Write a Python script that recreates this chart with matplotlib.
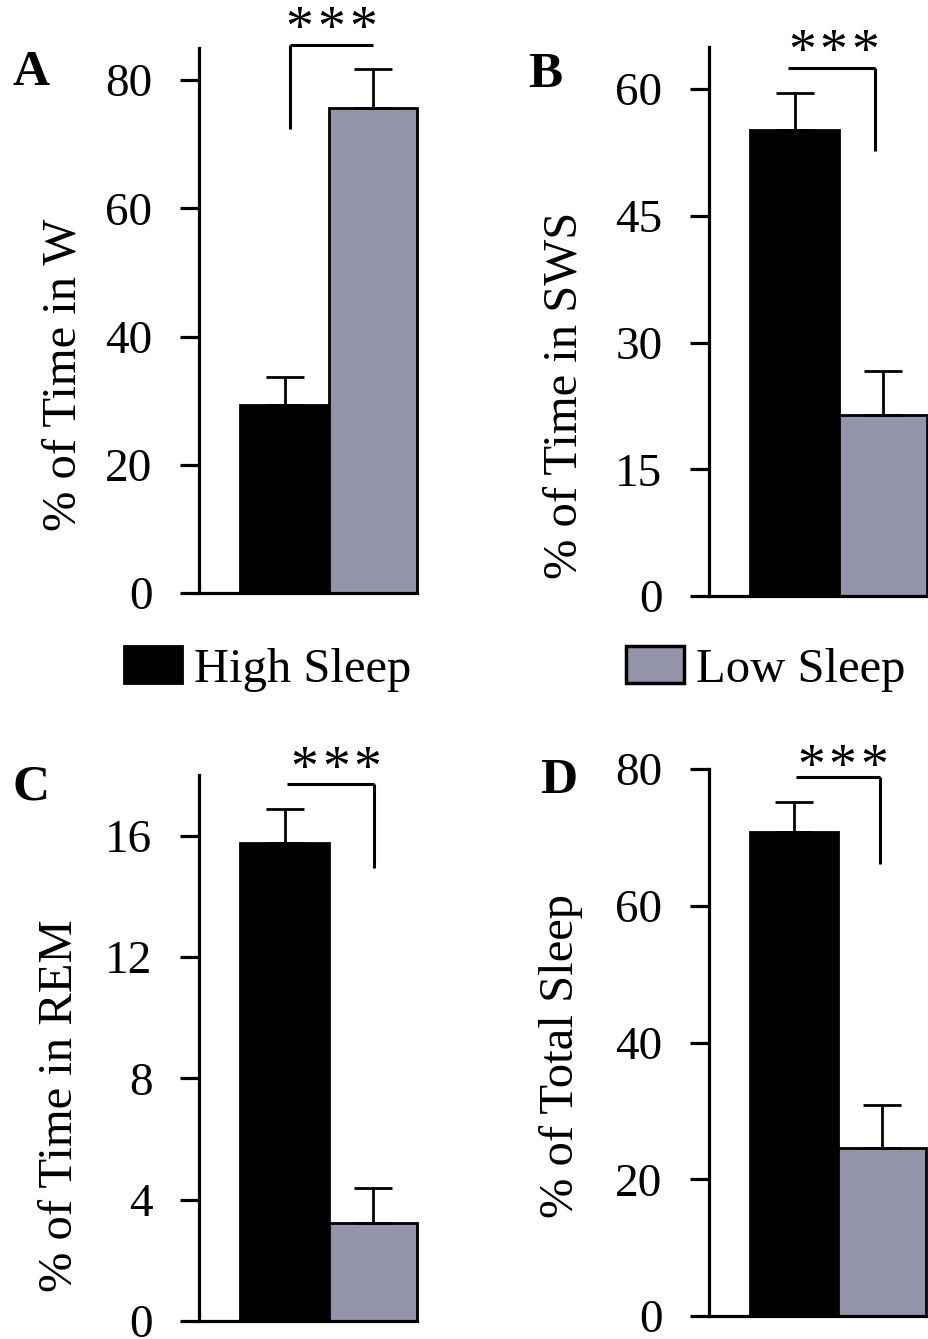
import matplotlib
matplotlib.use("Agg")
import matplotlib.pyplot as plt
from matplotlib.patches import Patch

plt.rcParams['font.family'] = ['Liberation Serif', 'DejaVu Serif']

groups = ["High Sleep", "Low Sleep"]
colors = ["#000000", "#9393a9"]

ylabels = ["% of Time in W", "% of Time in SWS", "% of Time in REM", "% of Total Sleep"]
letters = ["A", "B", "C", "D"]

wake_mean = [29.3, 75.6]
wake_sem = [4.4, 6.1]
sws_mean = [55.2, 21.4]
sws_sem = [4.4, 5.2]
rem_mean = [15.75, 3.22]
rem_sem = [1.12, 1.17]
total_mean = [70.8, 24.6]
total_sem = [4.4, 6.2]

yticks_list = [[0, 20, 40, 60, 80], [0, 15, 30, 45, 60], [0, 4, 8, 12, 16], [0, 20, 40, 60, 80]]
ytops = [85, 65, 18, 80]

# significance brackets: (x_start, x_end, height, leg end, leg side)
brackets = [(0.06, 1.0, 85.4, 72.3, "left"),
            (-0.08, 0.91, 62.5, 52.7, "right"),
            (0.03, 1.01, 17.7, 14.95, "right"),
            (0.02, 0.98, 78.8, 66.1, "right")]
# star group centre x and baseline y
stars_pos = [(0.53, 85.5), (0.44, 62.5), (0.58, 17.67), (0.55, 78.0)]

means = [wake_mean, sws_mean, rem_mean, total_mean]
sems = [wake_sem, sws_sem, rem_sem, total_sem]

W, H = 929, 1339
fig = plt.figure(figsize=(W / 100, H / 100), dpi=100)

# axes boxes in pixels: left, right, bottom, top
boxes = [(199, 417, 593, 48), (709, 927, 596, 47), (199, 417, 1321, 775), (709, 926, 1316, 769)]
ylab_pos = [(75, 375), (577, 395), (72, 1106), (573, 1056)]
letter_pos = [(13, 85), (528, 87), (13, 800), (540, 793)]

for i in range(4):
    l, r, b, t = boxes[i]
    ax = fig.add_axes([l / W, 1 - b / H, (r - l) / W, (b - t) / H])
    x = [0, 1]
    ax.bar(x, means[i], width=1.0, color=colors, edgecolor="black", linewidth=2, clip_on=False, zorder=2)
    ax.errorbar(x, means[i], yerr=[[0, 0], sems[i]], fmt="none", ecolor="black",
                elinewidth=2, capsize=14, capthick=2, zorder=3, clip_on=False)
    ax.set_xlim(-0.97, 1.5)
    ax.set_ylim(0, ytops[i])
    ax.set_yticks(yticks_list[i])
    ax.set_xticks([])
    for s in ["top", "right"]:
        ax.spines[s].set_visible(False)
    for s in ["left", "bottom"]:
        ax.spines[s].set_linewidth(2.3)
    ax.tick_params(axis="y", length=13.5, width=2.3, pad=20, labelsize=34)

    x0, x1, hgt, leg, side = brackets[i]
    ax.plot([x0, x1], [hgt, hgt], color="black", lw=2.2, clip_on=False, solid_capstyle="butt")
    lx = x0 if side == "left" else x1
    ax.plot([lx, lx], [hgt, leg], color="black", lw=2.2, clip_on=False, solid_capstyle="butt")
    sx, sy = stars_pos[i]
    for k in (-1, 0, 1):
        ax.text(sx + k * 0.36, sy, "*", ha="center", va="baseline", fontsize=40, clip_on=False)

    fig.text(ylab_pos[i][0] / W, 1 - ylab_pos[i][1] / H, ylabels[i], rotation=90,
             rotation_mode="anchor", ha="center", va="baseline", fontsize=35)
    fig.text(letter_pos[i][0] / W, 1 - letter_pos[i][1] / H, letters[i], ha="left",
             va="baseline", fontsize=37, fontweight="bold")

handles = [Patch(facecolor=colors[0], edgecolor="black", linewidth=2),
           Patch(facecolor=colors[1], edgecolor="black", linewidth=2.5)]
fig.legend(handles, groups, ncol=2, loc="center left", bbox_to_anchor=(124 / W, 1 - 669 / H),
           frameon=False, fontsize=35, handlelength=1.2, handleheight=0.8, handletextpad=0.25,
           columnspacing=4.4, borderpad=0, borderaxespad=0)

fig.savefig("out.png", dpi=100)
